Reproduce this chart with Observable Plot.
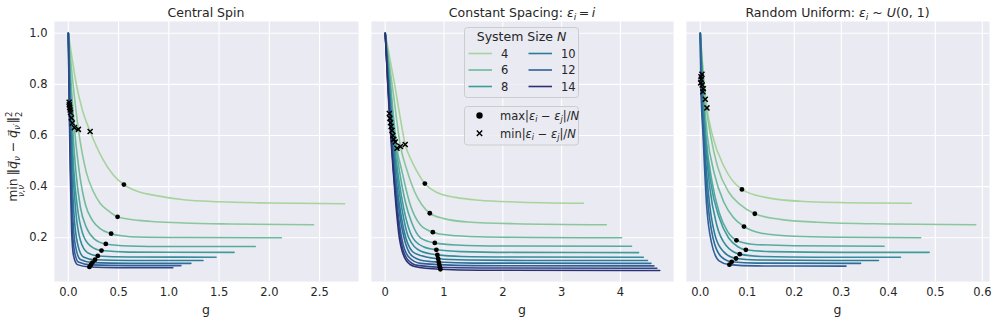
<!DOCTYPE html>
<html><head><meta charset="utf-8">
<script src="https://cdn.jsdelivr.net/npm/d3@7"></script>
<script src="https://cdn.jsdelivr.net/npm/@observablehq/plot@0.6"></script>
<style>
body{margin:0;background:#fff;}
#wrap{position:relative;width:997px;height:322px;font-family:"DejaVu Sans",sans-serif;color:#262626;}
</style></head><body><div id="wrap"></div>
<script>
// ---------- data ----------
const yTicks = [0.2, 0.4, 0.6, 0.8, 1.0];
const legendN = [4, 6, 8, 10, 12, 14];
const colorN = [4, 6, 8, 10, 12, 14];
const colorHex = ["#a6d49c", "#6dba9c", "#3e9c9d", "#2b7c97", "#305e99", "#2c2f73"];

// Central Spin
const central_xticks = [0, 0.5, 1.0, 1.5, 2.0, 2.5];
const central_N = [4, 5, 6, 7, 8, 9, 10, 11, 12, 13];
const central_g = [
  [0, 0.04, 0.08, 0.14, 0.217, 0.34, 0.45, 0.553, 0.7, 0.86, 1.15, 1.5, 2.0, 2.75],
  [0, 0.05, 0.1, 0.18, 0.25, 0.32, 0.4, 0.49, 0.7, 0.86, 1.15, 1.6, 2.44],
  [0, 0.03, 0.06, 0.107, 0.17, 0.24, 0.32, 0.426, 0.55, 0.69, 1.2, 2.12],
  [0, 0.02, 0.04, 0.074, 0.12, 0.18, 0.26, 0.373, 0.6, 1.0, 1.86],
  [0, 0.015, 0.03, 0.055, 0.09, 0.14, 0.22, 0.33, 0.6, 1.65],
  [0, 0.022, 0.045, 0.075, 0.12, 0.19, 0.293, 0.6, 1.47],
  [0, 0.018, 0.034, 0.055, 0.09, 0.15, 0.266, 0.6, 1.34],
  [0, 0.014, 0.028, 0.045, 0.07, 0.12, 0.24, 0.6, 1.22],
  [0, 0.01, 0.023, 0.038, 0.06, 0.1, 0.225, 0.6, 1.12],
  [0, 0.008, 0.019, 0.033, 0.052, 0.09, 0.21, 0.5, 1.04]
];
const central_v = [
  [1, 0.895, 0.8, 0.7, 0.616, 0.51, 0.445, 0.408, 0.38, 0.366, 0.349, 0.341, 0.336, 0.333],
  [1, 0.79, 0.624, 0.455, 0.38, 0.333, 0.305, 0.282, 0.268, 0.263, 0.258, 0.254, 0.251],
  [1, 0.79, 0.631, 0.464, 0.33, 0.268, 0.235, 0.216, 0.207, 0.203, 0.201, 0.2],
  [1, 0.8, 0.649, 0.464, 0.32, 0.24, 0.195, 0.176, 0.168, 0.166, 0.166],
  [1, 0.81, 0.669, 0.464, 0.32, 0.22, 0.168, 0.15, 0.144, 0.143],
  [1, 0.69, 0.464, 0.3, 0.19, 0.142, 0.129, 0.125, 0.124],
  [1, 0.70, 0.464, 0.3, 0.18, 0.125, 0.114, 0.111, 0.111],
  [1, 0.71, 0.464, 0.28, 0.17, 0.115, 0.103, 0.1, 0.1],
  [1, 0.72, 0.464, 0.26, 0.15, 0.105, 0.094, 0.091, 0.091],
  [1, 0.73, 0.464, 0.23, 0.13, 0.095, 0.086, 0.083, 0.083]
];
const central_max_g = [0.553, 0.49, 0.426, 0.373, 0.33, 0.293, 0.266, 0.24, 0.225, 0.21];
const central_max_v = [0.408, 0.282, 0.216, 0.176, 0.15, 0.129, 0.114, 0.103, 0.094, 0.086];
const central_min_g = [0.217, 0.1, 0.06, 0.04, 0.03, 0.022, 0.018, 0.014, 0.01, 0.008];
const central_min_v = [0.616, 0.624, 0.631, 0.649, 0.669, 0.69, 0.70, 0.71, 0.72, 0.73];

// Constant Spacing
const constant_xticks = [0, 1, 2, 3, 4];
const constant_N = [4, 5, 6, 7, 8, 9, 10, 11, 12, 13, 14];
const constant_g = [
  [0, 0.08, 0.16, 0.27, 0.34, 0.43, 0.53, 0.674, 0.9, 1.2, 1.6, 2.2, 3.37],
  [0, 0.07, 0.14, 0.26, 0.37, 0.5, 0.62, 0.758, 1.0, 1.4, 2.2, 3.76],
  [0, 0.065, 0.13, 0.2, 0.28, 0.42, 0.6, 0.81, 1.1, 1.6, 2.5, 4.02],
  [0, 0.06, 0.17, 0.24, 0.35, 0.45, 0.6, 0.843, 1.2, 2.0, 4.19],
  [0, 0.055, 0.145, 0.21, 0.3, 0.47, 0.65, 0.87, 1.3, 2.2, 4.31],
  [0, 0.05, 0.13, 0.19, 0.27, 0.4, 0.6, 0.887, 1.3, 2.2, 4.39],
  [0, 0.05, 0.115, 0.17, 0.24, 0.35, 0.5, 0.9, 1.4, 2.4, 4.46],
  [0, 0.05, 0.1, 0.155, 0.22, 0.32, 0.45, 0.65, 0.91, 1.5, 4.52],
  [0, 0.045, 0.09, 0.145, 0.2, 0.28, 0.4, 0.6, 0.92, 1.5, 4.57],
  [0, 0.045, 0.08, 0.14, 0.19, 0.26, 0.38, 0.55, 0.93, 1.6, 4.62],
  [0, 0.045, 0.07, 0.135, 0.18, 0.24, 0.36, 0.5, 0.938, 1.6, 4.67]
];
const constant_v = [
  [1, 0.9, 0.8, 0.65, 0.565, 0.51, 0.464, 0.412, 0.375, 0.358, 0.347, 0.34, 0.335],
  [1, 0.88, 0.76, 0.557, 0.464, 0.38, 0.33, 0.296, 0.275, 0.262, 0.255, 0.251],
  [1, 0.87, 0.7, 0.55, 0.464, 0.333, 0.25, 0.222, 0.21, 0.204, 0.201, 0.2],
  [1, 0.86, 0.575, 0.464, 0.333, 0.26, 0.2, 0.18, 0.172, 0.168, 0.167],
  [1, 0.85, 0.585, 0.464, 0.333, 0.2, 0.165, 0.153, 0.146, 0.143, 0.142],
  [1, 0.84, 0.6, 0.464, 0.333, 0.2, 0.148, 0.133, 0.127, 0.125, 0.124],
  [1, 0.83, 0.62, 0.464, 0.333, 0.2, 0.14, 0.118, 0.113, 0.111, 0.111],
  [1, 0.82, 0.635, 0.464, 0.333, 0.2, 0.13, 0.11, 0.105, 0.101, 0.1],
  [1, 0.81, 0.65, 0.464, 0.333, 0.2, 0.125, 0.1, 0.095, 0.091, 0.09],
  [1, 0.8, 0.667, 0.464, 0.333, 0.2, 0.115, 0.092, 0.085, 0.082, 0.081],
  [1, 0.79, 0.686, 0.464, 0.333, 0.2, 0.11, 0.088, 0.077, 0.073, 0.072]
];
const constant_max_g = [0.674, 0.758, 0.81, 0.843, 0.87, 0.887, 0.9, 0.91, 0.92, 0.93, 0.938];
const constant_max_v = [0.412, 0.296, 0.222, 0.18, 0.153, 0.133, 0.118, 0.105, 0.095, 0.085, 0.077];
const constant_min_g = [0.34, 0.26, 0.2, 0.17, 0.145, 0.13, 0.115, 0.1, 0.09, 0.08, 0.07];
const constant_min_v = [0.565, 0.557, 0.55, 0.575, 0.585, 0.6, 0.62, 0.635, 0.65, 0.667, 0.686];

// Random Uniform
const random_xticks = [0, 0.1, 0.2, 0.3, 0.4, 0.5, 0.6];
const random_N = [4, 5, 6, 7, 8, 9, 10, 11, 12];
const random_g = [
  [0, 0.006, 0.0142, 0.026, 0.051, 0.0886, 0.136, 0.221, 0.363, 0.449],
  [0, 0.0106, 0.022, 0.037, 0.06, 0.085, 0.116, 0.17, 0.25, 0.4, 0.586],
  [0, 0.0064, 0.015, 0.03, 0.05, 0.07, 0.093, 0.13, 0.2, 0.3, 0.469],
  [0, 0.0057, 0.012, 0.025, 0.04, 0.058, 0.077, 0.11, 0.2, 0.391],
  [0, 0.004, 0.01, 0.022, 0.04, 0.06, 0.08, 0.097, 0.15, 0.3, 0.487],
  [0, 0.0036, 0.01, 0.02, 0.035, 0.055, 0.084, 0.13, 0.25, 0.426],
  [0, 0.0015, 0.008, 0.017, 0.03, 0.05, 0.076, 0.12, 0.379],
  [0, 0.002, 0.007, 0.015, 0.027, 0.045, 0.067, 0.12, 0.341],
  [0, 0.001, 0.006, 0.013, 0.024, 0.04, 0.062, 0.12, 0.31]
];
const random_v = [
  [1, 0.85, 0.708, 0.6, 0.477, 0.389, 0.359, 0.342, 0.336, 0.335],
  [1, 0.742, 0.6, 0.477, 0.38, 0.33, 0.294, 0.272, 0.261, 0.254, 0.251],
  [1, 0.783, 0.6, 0.45, 0.34, 0.28, 0.244, 0.218, 0.206, 0.202, 0.2],
  [1, 0.771, 0.6, 0.42, 0.3, 0.225, 0.19, 0.175, 0.169, 0.167],
  [1, 0.798, 0.62, 0.42, 0.28, 0.2, 0.165, 0.153, 0.146, 0.143, 0.143],
  [1, 0.84, 0.6, 0.4, 0.25, 0.17, 0.136, 0.127, 0.124, 0.124],
  [1, 0.83, 0.6, 0.38, 0.22, 0.145, 0.119, 0.113, 0.111],
  [1, 0.82, 0.6, 0.36, 0.2, 0.125, 0.106, 0.101, 0.1],
  [1, 0.806, 0.6, 0.34, 0.18, 0.11, 0.095, 0.09, 0.089]
];
const random_max_g = [0.0886, 0.116, 0.093, 0.077, 0.097, 0.084, 0.076, 0.067, 0.062];
const random_max_v = [0.389, 0.294, 0.244, 0.19, 0.153, 0.136, 0.119, 0.106, 0.095];
const random_min_g = [0.0142, 0.0106, 0.0064, 0.0057, 0.004, 0.0036, 0.0015, 0.002, 0.001];
const random_min_v = [0.708, 0.742, 0.783, 0.771, 0.798, 0.84, 0.83, 0.82, 0.806];

// ---------- drawing ----------
const wrap = document.getElementById("wrap");
const FONT = "'DejaVu Sans', sans-serif";
const TXT = "#262626";
const BG = "#EAEAF2";
const colorOpts = {type: "linear", domain: colorN, range: colorHex, interpolate: "rgb"};

function panel(o) {
  const lines = [];
  o.N.forEach((n, i) => o.G[i].forEach((g, j) => lines.push({N: n, g, v: o.V[i][j]})));
  const maxPts = o.N.map((n, i) => ({N: n, g: o.maxG[i], v: o.maxV[i]}));
  const minPts = o.N.map((n, i) => ({N: n, g: o.minG[i], v: o.minV[i]}));
  const p = Plot.plot({
    width: o.width, height: 322,
    marginLeft: o.mL, marginRight: o.mR, marginTop: 21, marginBottom: 41,
    style: {fontFamily: FONT, fontSize: "11.5px", color: TXT, background: "transparent", overflow: "visible"},
    x: {domain: o.xDomain, ticks: o.xTicks, tickSize: 0, tickPadding: 6, tickFormat: o.xFmt, label: null},
    y: o.showY
      ? {domain: [0.029, 1.046], ticks: yTicks, tickSize: 0, tickPadding: 7, tickFormat: d3.format(".1f"), label: null}
      : {domain: [0.029, 1.046], axis: null},
    color: colorOpts,
    marks: [
      Plot.frame({fill: BG, stroke: null}),
      Plot.ruleX(o.xTicks, {stroke: "white", strokeWidth: 1.1}),
      Plot.ruleY(yTicks, {stroke: "white", strokeWidth: 1.1}),
      Plot.line(lines, {x: "g", y: "v", z: "N", stroke: "N", strokeWidth: 1.6, curve: "monotone-x"}),
      Plot.dot(maxPts, {x: "g", y: "v", r: 2.4, fill: "black", stroke: null}),
      Plot.dot(minPts, {x: "g", y: "v", symbol: "times", r: 2.4, stroke: "black", strokeWidth: 1.5})
    ]
  });
  p.style.position = "absolute";
  p.style.left = o.left + "px";
  p.style.top = "0px";
  wrap.appendChild(p);
}

panel({left: 0, width: 362, mL: 54, mR: 4, xDomain: [-0.1375, 2.8875], xTicks: central_xticks,
  xFmt: d3.format(".1f"), showY: true, N: central_N, G: central_g, V: central_v,
  maxG: central_max_g, maxV: central_max_v, minG: central_min_g, minV: central_min_v});
panel({left: 362, width: 315, mL: 9, mR: 4, xDomain: [-0.2335, 4.9035], xTicks: constant_xticks,
  xFmt: d3.format("d"), showY: false, N: constant_N, G: constant_g, V: constant_v,
  maxG: constant_max_g, maxV: constant_max_v, minG: constant_min_g, minV: constant_min_v});
panel({left: 677, width: 320, mL: 9, mR: 8, xDomain: [-0.0293, 0.6153], xTicks: random_xticks,
  xFmt: d3.format(".1f"), showY: false, N: random_N, G: random_g, V: random_v,
  maxG: random_max_g, maxV: random_max_v, minG: random_min_g, minV: random_min_v});

// ---------- overlay: titles, axis labels, legends ----------
const colorOf = d3.scaleLinear().domain(colorN).range(colorHex).interpolate(d3.interpolateRgb);
const ov = d3.select(wrap).append("svg")
  .attr("width", 997).attr("height", 322)
  .style("position", "absolute").style("left", "0px").style("top", "0px")
  .style("font-family", FONT).attr("fill", TXT);

function title(x, parts) {
  const t = ov.append("text").attr("x", x).attr("y", 16.5).attr("text-anchor", "middle").attr("font-size", 12.5);
  parts.forEach(p => {
    const s = t.append("tspan").text(p.t);
    if (p.i) s.attr("font-style", "italic");
    if (p.sub) s.attr("font-size", 9).attr("dy", 3);
    if (p.up) s.attr("dy", -3);
  });
}
title(206, [{t: "Central Spin"}]);
title(522, [{t: "Constant Spacing: "}, {t: "ε", i: true}, {t: "i", i: true, sub: true}, {t: "\u2009=\u2009", up: true}, {t: "i", i: true}]);
title(837.5, [{t: "Random Uniform: "}, {t: "ε", i: true}, {t: "i", i: true, sub: true}, {t: " ~ ", up: true}, {t: "U", i: true}, {t: "(0, 1)"}]);

[206, 522, 837.5].forEach(x =>
  ov.append("text").attr("x", x).attr("y", 313.5).attr("text-anchor", "middle").attr("font-size", 12.5).text("g"));

// y label (rotated), laid out by measuring its pieces
const yg = ov.append("g").attr("transform", "translate(17,154) rotate(-90)").attr("font-size", 12.5);
const tMin = yg.append("text").text("min");
const wMin = tMin.node().getComputedTextLength();
const tSub = yg.append("text").attr("font-size", 8.5).attr("font-style", "italic").attr("y", 6.5).text("ν,ν′");
const wSub = tSub.node().getComputedTextLength();
const tRest = yg.append("text");
tRest.append("tspan").text("‖");
tRest.append("tspan").attr("font-style", "italic").text("q\u20D7");
tRest.append("tspan").attr("dy", 3).attr("font-size", 8.5).attr("font-style", "italic").text("ν");
tRest.append("tspan").attr("dy", -3).text(" − ");
tRest.append("tspan").attr("font-style", "italic").text("q\u20D7");
tRest.append("tspan").attr("dy", 3).attr("font-size", 8.5).attr("font-style", "italic").text("ν′");
tRest.append("tspan").attr("dy", -3).text("‖");
tRest.append("tspan").attr("dy", -5).attr("font-size", 8.5).text("2");
tRest.append("tspan").attr("dx", -5.4).attr("dy", 10).attr("font-size", 8.5).text("2");
const wRest = tRest.node().getComputedTextLength();
const gap = 3;
const total = Math.max(wMin, wSub) + gap + wRest;
const x0 = -total / 2;
const colW = Math.max(wMin, wSub);
tMin.attr("x", x0 + (colW - wMin) / 2);
tSub.attr("x", x0 + (colW - wSub) / 2);
tRest.attr("x", x0 + colW + gap);

// legend 1
ov.append("rect").attr("x", 464.5).attr("y", 27.5).attr("width", 114).attr("height", 70).attr("rx", 3)
  .attr("fill", BG).attr("fill-opacity", 0.8).attr("stroke", "#cccccc");
const lt = ov.append("text").attr("x", 521.5).attr("y", 41).attr("text-anchor", "middle").attr("font-size", 12.5);
lt.append("tspan").text("System Size ");
lt.append("tspan").attr("font-style", "italic").text("N");
legendN.forEach((n, i) => {
  const col = Math.floor(i / 3), row = i % 3;
  const x0 = col === 0 ? 468.5 : 528.5;
  const y = 53.5 + row * 16.5;
  ov.append("line").attr("x1", x0).attr("x2", x0 + 23.5).attr("y1", y).attr("y2", y)
    .attr("stroke", colorOf(n)).attr("stroke-width", 1.6);
  ov.append("text").attr("x", x0 + 32.5).attr("y", y + 4.2).attr("font-size", 11.5).text(n);
});

// legend 2
ov.append("rect").attr("x", 464.5).attr("y", 106.5).attr("width", 114).attr("height", 38.5).attr("rx", 3)
  .attr("fill", BG).attr("fill-opacity", 0.8).attr("stroke", "#cccccc");
ov.append("circle").attr("cx", 479.5).attr("cy", 115.5).attr("r", 3.2).attr("fill", "black");
ov.append("path").attr("d", "M476.8,130.6L482.2,136M476.8,136L482.2,130.6").attr("stroke", "black").attr("stroke-width", 1.4);
function legText(y, word) {
  const t = ov.append("text").attr("x", 500).attr("y", y).attr("font-size", 11.5);
  t.append("tspan").text(word + "|");
  t.append("tspan").attr("font-style", "italic").text("ε");
  t.append("tspan").attr("font-style", "italic").attr("font-size", 8).attr("dy", 2.5).text("i");
  t.append("tspan").attr("dy", -2.5).text(" − ");
  t.append("tspan").attr("font-style", "italic").text("ε");
  t.append("tspan").attr("font-style", "italic").attr("font-size", 8).attr("dy", 2.5).text("j");
  t.append("tspan").attr("dy", -2.5).text("|/");
  t.append("tspan").attr("font-style", "italic").text("N");
}
legText(119.5, "max");
legText(137.5, "min");
</script></body></html>
